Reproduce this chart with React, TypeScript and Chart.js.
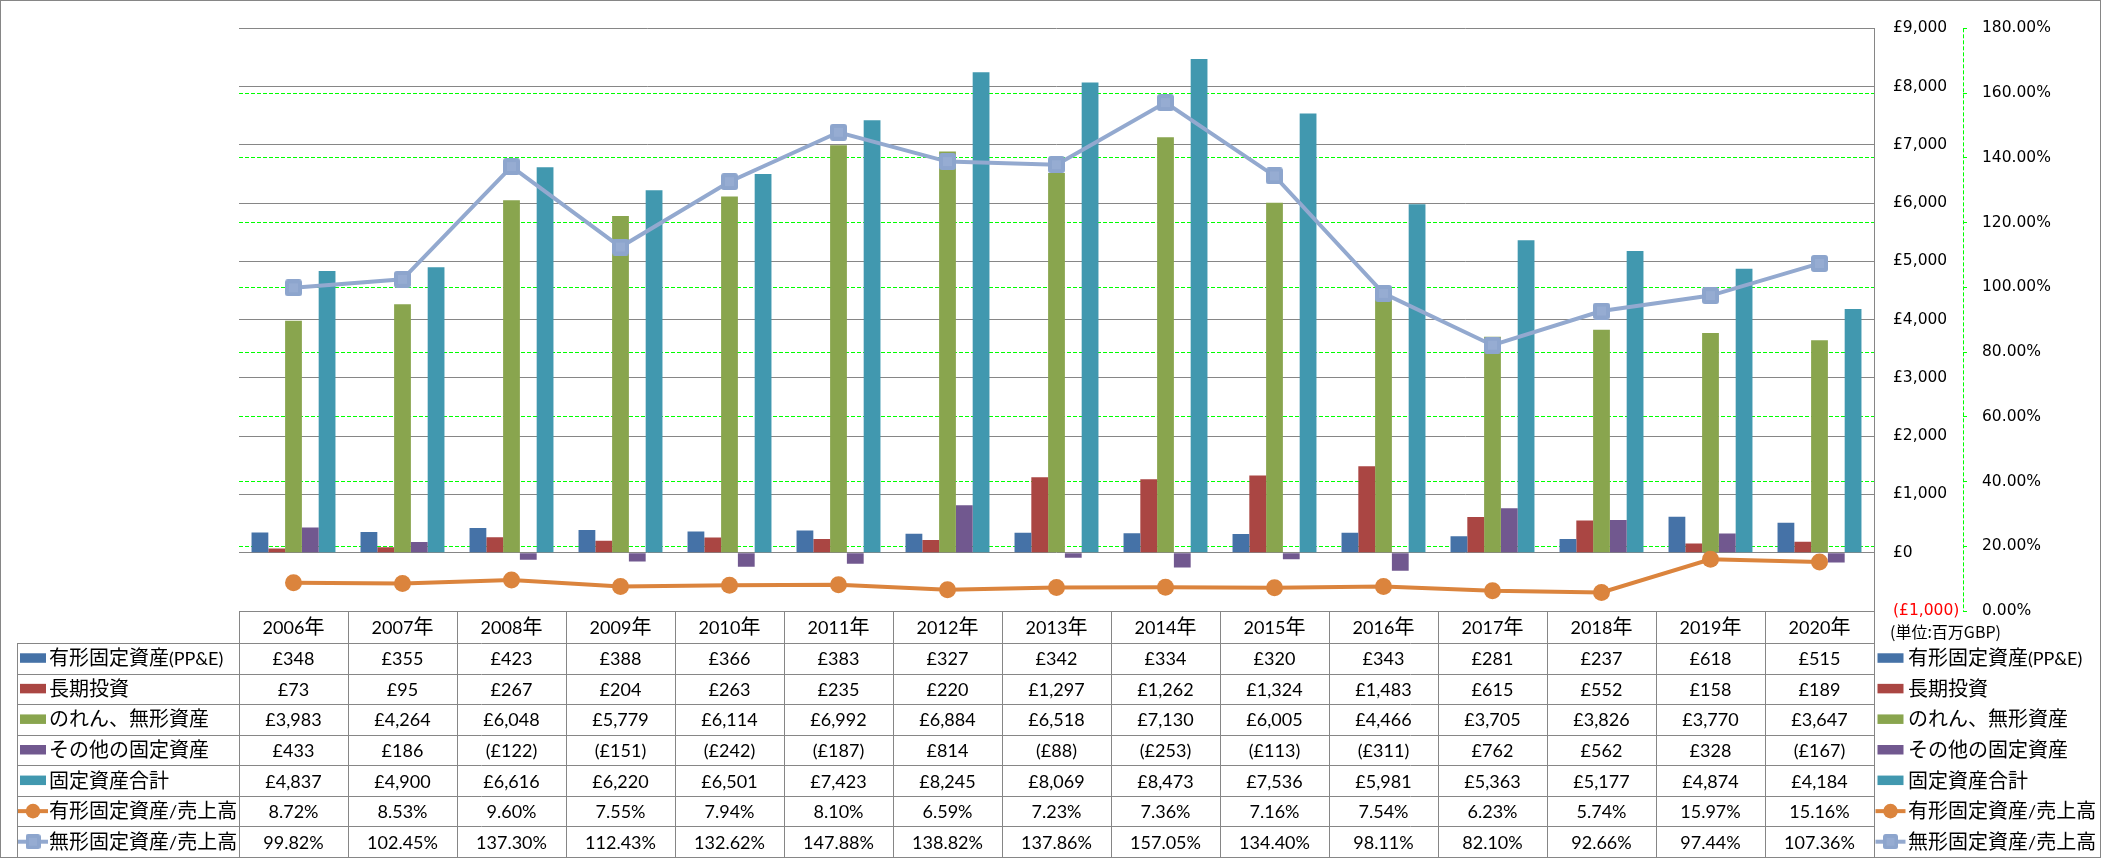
import { useEffect, useRef } from 'react';
import { Chart, registerables } from 'chart.js';

Chart.register(...registerables);

// ---------------- data ----------------
const years = ['2006年', '2007年', '2008年', '2009年', '2010年', '2011年', '2012年', '2013年', '2014年', '2015年', '2016年', '2017年', '2018年', '2019年', '2020年'];
const ppeValues = [348, 355, 423, 388, 366, 383, 327, 342, 334, 320, 343, 281, 237, 618, 515];
const longTermInvValues = [73, 95, 267, 204, 263, 235, 220, 1297, 1262, 1324, 1483, 615, 552, 158, 189];
const goodwillValues = [3983, 4264, 6048, 5779, 6114, 6992, 6884, 6518, 7130, 6005, 4466, 3705, 3826, 3770, 3647];
const otherFixedValues = [433, 186, -122, -151, -242, -187, 814, -88, -253, -113, -311, 762, 562, 328, -167];
const totalFixedValues = [4837, 4900, 6616, 6220, 6501, 7423, 8245, 8069, 8473, 7536, 5981, 5363, 5177, 4874, 4184];
const ppeRatioValues = [8.72, 8.53, 9.6, 7.55, 7.94, 8.1, 6.59, 7.23, 7.36, 7.16, 7.54, 6.23, 5.74, 15.97, 15.16];
const intangibleRatioValues = [99.82, 102.45, 137.3, 112.43, 132.62, 147.88, 138.82, 137.86, 157.05, 134.4, 98.11, 82.1, 92.66, 97.44, 107.36];

const seriesNames = ['有形固定資産(PP&E)', '長期投資', 'のれん、無形資産', 'その他の固定資産', '固定資産合計', '有形固定資産/売上高', '無形固定資産/売上高'];
const unitLabel = '(単位:百万GBP)';

const primaryMin = -1000;
const primaryMax = 9000;
const primaryStep = 1000;
const secondaryMin = 0;
const secondaryMax = 180;
const secondaryStep = 20;

// ---------------- styles ----------------
const COLORS = ['#4572A7', '#AA4643', '#89A54E', '#71588F', '#4198AF', '#DB843D', '#93A9CF'];
const GRID_GRAY = '#868686';
const GREEN = '#00FF00';
const W = 2101;
const H = 858;
const LATIN_FONT = '18px Lato';
const CJK_FONT = '20px "Noto Sans CJK JP"';
const TICK_FONT = { family: 'DejaVu Sans', size: 15.5 };

const fmtMoney = (v: number) => (v < 0 ? `(£${Math.abs(v).toLocaleString('en-US')})` : `£${v.toLocaleString('en-US')}`);
const fmtPct = (v: number) => `${v.toFixed(2)}%`;

const CJK_RE = /[\u3000-\u30ff\u3400-\u9fff\uff00-\uffef]/;

function splitRuns(text: string) {
  const runs: { t: string; cjk: boolean; w: number }[] = [];
  for (const ch of text) {
    const cjk = CJK_RE.test(ch);
    const last = runs[runs.length - 1];
    if (last && last.cjk === cjk) last.t += ch;
    else runs.push({ t: ch, cjk, w: 0 });
  }
  return runs;
}

function drawMixed(ctx: CanvasRenderingContext2D, text: string, x: number, y: number, align: 'left' | 'center', latin = LATIN_FONT, cjkF = CJK_FONT) {
  const runs = splitRuns(text);
  let total = 0;
  for (const r of runs) {
    ctx.font = r.cjk ? cjkF : latin;
    r.w = ctx.measureText(r.t).width;
    total += r.w;
  }
  let cx = align === 'center' ? x - total / 2 : x;
  ctx.textAlign = 'left';
  ctx.textBaseline = 'alphabetic';
  for (const r of runs) {
    ctx.font = r.cjk ? cjkF : latin;
    ctx.fillText(r.t, cx, y);
    cx += r.w;
  }
}

function makeSquareMarker(size: number) {
  const c = document.createElement('canvas');
  c.width = size;
  c.height = size;
  const g = c.getContext('2d')!;
  g.fillStyle = '#8DA5CD';
  g.beginPath();
  (g as any).roundRect(0, 0, size, size, 3);
  g.fill();
  g.fillStyle = '#96ACD2';
  const inset = Math.round(size * 0.25);
  g.fillRect(inset, inset, size - inset * 2, size - inset * 2);
  return c;
}

type Row = { name: string; values: number[]; fmt: (v: number) => string; kind: 'bar' | 'circle' | 'square'; color: string };

export default function App() {
  const ref = useRef<HTMLCanvasElement | null>(null);

  useEffect(() => {
    const canvas = ref.current;
    if (!canvas) return;
    const squareMarker = makeSquareMarker(17);

    const rows: Row[] = [
      { name: seriesNames[0], values: ppeValues, fmt: fmtMoney, kind: 'bar', color: COLORS[0] },
      { name: seriesNames[1], values: longTermInvValues, fmt: fmtMoney, kind: 'bar', color: COLORS[1] },
      { name: seriesNames[2], values: goodwillValues, fmt: fmtMoney, kind: 'bar', color: COLORS[2] },
      { name: seriesNames[3], values: otherFixedValues, fmt: fmtMoney, kind: 'bar', color: COLORS[3] },
      { name: seriesNames[4], values: totalFixedValues, fmt: fmtMoney, kind: 'bar', color: COLORS[4] },
      { name: seriesNames[5], values: ppeRatioValues, fmt: fmtPct, kind: 'circle', color: COLORS[5] },
      { name: seriesNames[6], values: intangibleRatioValues, fmt: fmtPct, kind: 'square', color: COLORS[6] },
    ];

    const drawSwatch = (ctx: CanvasRenderingContext2D, row: Row, cx: number, cy: number) => {
      if (row.kind === 'bar') {
        ctx.fillStyle = row.color;
        ctx.fillRect(cx - 13, cy - 5, 26, 9.5);
      } else {
        ctx.strokeStyle = row.color;
        ctx.lineWidth = 4;
        ctx.beginPath();
        ctx.moveTo(cx - 15, cy);
        ctx.lineTo(cx + 15, cy);
        ctx.stroke();
        if (row.kind === 'circle') {
          ctx.fillStyle = row.color;
          ctx.beginPath();
          ctx.arc(cx, cy, 7.3, 0, Math.PI * 2);
          ctx.fill();
        } else {
          ctx.drawImage(squareMarker, cx - 7.5, cy - 7.5, 15, 15);
        }
      }
    };

    const tablePlugin = {
      id: 'dataTable',
      afterDraw(chart: any) {
        const ctx: CanvasRenderingContext2D = chart.ctx;
        const area = chart.chartArea;
        const xs = chart.scales.x;
        const y1 = chart.scales.y1;
        const n = years.length;
        const colW = (area.right - area.left) / n;
        const top = Math.round(area.bottom);
        const headerH = 32;
        const bottom = H - 1;
        const rowH = (bottom - top - headerH) / rows.length;
        const legLeft = 17;
        const al = (v: number) => Math.round(v) + 0.5;

        ctx.save();
        // secondary axis dashed line
        ctx.strokeStyle = GREEN;
        ctx.lineWidth = 1;
        ctx.setLineDash([4, 2]);
        ctx.beginPath();
        ctx.moveTo(al(y1.left), area.top);
        ctx.lineTo(al(y1.left), area.bottom);
        ctx.stroke();
        ctx.setLineDash([]);

        // table grid
        ctx.strokeStyle = GRID_GRAY;
        ctx.lineWidth = 1;
        ctx.beginPath();
        ctx.moveTo(area.left, al(top));
        ctx.lineTo(area.right, al(top));
        for (let r = 0; r <= rows.length; r++) {
          const yy = al(top + headerH + r * rowH);
          ctx.moveTo(legLeft, yy);
          ctx.lineTo(area.right + 1, yy);
        }
        ctx.moveTo(al(legLeft), top + headerH);
        ctx.lineTo(al(legLeft), bottom);
        for (let i = 0; i <= n; i++) {
          const xx = al(area.left + i * colW);
          ctx.moveTo(xx, top);
          ctx.lineTo(xx, bottom);
        }
        ctx.stroke();

        // header
        ctx.fillStyle = '#000';
        const hc = top + headerH / 2;
        years.forEach((yr, i) => {
          drawMixed(ctx, yr, xs.getPixelForValue(i), hc + 7, 'center');
        });

        // rows
        rows.forEach((row, r) => {
          const rc = top + headerH + r * rowH + rowH / 2;
          row.values.forEach((v, i) => {
            ctx.fillStyle = '#000';
            drawMixed(ctx, row.fmt(v), xs.getPixelForValue(i), rc + 7, 'center');
          });
          drawSwatch(ctx, row, 33, rc);
          ctx.fillStyle = '#000';
          drawMixed(ctx, row.name, 49, rc + 7, 'left');
          // right legend
          drawSwatch(ctx, row, 1890.5, rc);
          ctx.fillStyle = '#000';
          drawMixed(ctx, row.name, 1908, rc + 7, 'left');
        });

        // unit label
        ctx.fillStyle = '#000';
        drawMixed(ctx, unitLabel, 1890, top + 27, 'left', '16px "Noto Sans CJK JP"', '16px "Noto Sans CJK JP"');

        // outer border
        ctx.strokeStyle = GRID_GRAY;
        ctx.lineWidth = 1;
        ctx.strokeRect(0.5, 0.5, W - 1, H - 1);
        ctx.restore();
      },
    };

    const barDs = (i: number, data: number[]) => ({
      type: 'bar' as const,
      label: seriesNames[i],
      data,
      backgroundColor: COLORS[i],
      borderWidth: 0,
      yAxisID: 'y',
      order: 2,
    });

    const chart = new Chart(canvas, {
      type: 'bar',
      data: {
        labels: years,
        datasets: [
          barDs(0, ppeValues),
          barDs(1, longTermInvValues),
          barDs(2, goodwillValues),
          barDs(3, otherFixedValues),
          barDs(4, totalFixedValues),
          {
            type: 'line',
            label: seriesNames[5],
            data: ppeRatioValues,
            borderColor: COLORS[5],
            backgroundColor: COLORS[5],
            borderWidth: 4,
            pointRadius: 8.5,
            pointStyle: 'circle',
            pointBackgroundColor: COLORS[5],
            pointBorderColor: COLORS[5],
            pointBorderWidth: 0,
            tension: 0,
            yAxisID: 'y1',
            order: 1,
          } as any,
          {
            type: 'line',
            label: seriesNames[6],
            data: intangibleRatioValues,
            borderColor: COLORS[6],
            backgroundColor: COLORS[6],
            borderWidth: 4,
            pointRadius: 8.5,
            pointStyle: squareMarker,
            tension: 0,
            yAxisID: 'y1',
            order: 0,
          } as any,
        ],
      },
      options: {
        responsive: false,
        animation: false,
        devicePixelRatio: 1,
        events: [],
        layout: { padding: { left: 239, top: 13, right: 0, bottom: H - 611 } },
        plugins: { legend: { display: false }, tooltip: { enabled: false } },
        datasets: { bar: { categoryPercentage: 0.77, barPercentage: 1 } },
        scales: {
          x: { display: false, offset: true },
          y: {
            position: 'right',
            weight: 0,
            min: primaryMin,
            max: primaryMax,
            ticks: {
              stepSize: primaryStep,
              padding: 19,
              autoSkip: false,
              font: TICK_FONT,
              color: (c: any) => (c.tick && c.tick.value < 0 ? '#FF0000' : '#000000'),
              callback: (v: any) => fmtMoney(Number(v)),
            },
            grid: { color: GRID_GRAY, lineWidth: 1, drawTicks: false },
            border: { display: true, color: GRID_GRAY, width: 1 },
            afterFit: (s: any) => {
              s.width = 89;
            },
          },
          y1: {
            position: 'right',
            weight: 1,
            min: secondaryMin,
            max: secondaryMax,
            ticks: {
              stepSize: secondaryStep,
              padding: 15,
              autoSkip: false,
              font: TICK_FONT,
              color: '#000000',
              callback: (v: any) => fmtPct(Number(v)),
            },
            grid: {
              color: (c: any) => (c.tick && (c.tick.value === secondaryMin || c.tick.value === secondaryMax) ? 'rgba(0,0,0,0)' : GREEN),
              lineWidth: 1,
              drawTicks: true,
              tickLength: 4,
              tickColor: GREEN,
            },
            border: { display: false, dash: [4, 2] },
            afterFit: (s: any) => {
              s.width = 138;
            },
          },
        },
      } as any,
      plugins: [tablePlugin],
    });

    return () => chart.destroy();
  }, []);

  return (
    <div style={{ position: 'absolute', left: 0, top: 0, width: W, height: H, background: '#fff' }}>
      <canvas ref={ref} width={W} height={H} style={{ display: 'block', width: W, height: H }} />
    </div>
  );
}
